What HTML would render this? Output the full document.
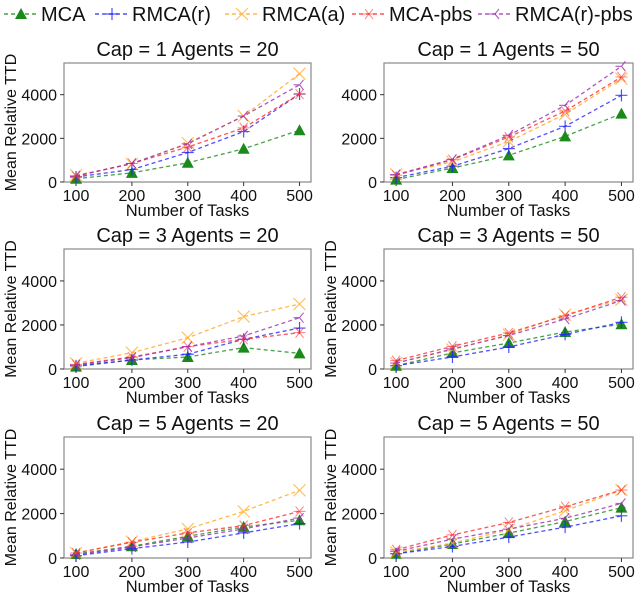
<!DOCTYPE html>
<html><head><meta charset="utf-8"><style>
body{margin:0;background:#fff;width:640px;height:594px;overflow:hidden}
svg{font-family:"Liberation Sans","DejaVu Sans",sans-serif}
</style></head><body>
<svg id="chart" width="640" height="594" viewBox="0 0 640 594" xmlns="http://www.w3.org/2000/svg"></svg>
<script>
const tasks = [100, 200, 300, 400, 500];
const seriesNames = ["MCA", "RMCA(r)", "RMCA(a)", "MCA-pbs", "RMCA(r)-pbs"];
const yTicks = [0, 2000, 4000];
const panelTitles = ["Cap = 1 Agents = 20", "Cap = 1 Agents = 50", "Cap = 3 Agents = 20", "Cap = 3 Agents = 50", "Cap = 5 Agents = 20", "Cap = 5 Agents = 50"];
const mcaVals = [[150,420,880,1520,2370],[110,640,1220,2090,3130],[110,410,545,970,710],[150,730,1180,1680,2030],[180,530,980,1400,1700],[190,630,1120,1640,2270]];
const rmcaRVals = [[230,570,1350,2310,4030],[200,720,1530,2550,3970],[140,410,670,1350,1860],[150,545,1000,1570,2120],[105,420,720,1130,1550],[190,520,940,1390,1900]];
const rmcaAVals = [[310,820,1780,3020,4960],[350,920,1860,3100,4730],[260,740,1420,2380,2950],[270,880,1560,2470,3150],[225,740,1310,2100,3050],[250,670,1270,2130,3060]];
const mcaPbsVals = [[260,850,1600,2480,4030],[310,1020,2060,3250,4810],[210,545,1015,1350,1650],[380,1030,1640,2420,3260],[225,710,1130,1460,2100],[370,1040,1600,2310,3060]];
const rmcaRPbsVals = [[280,850,1750,3020,4450],[340,1040,2140,3510,5300],[180,515,1015,1500,2330],[270,910,1520,2270,3110],[150,500,900,1310,1800],[300,850,1300,1790,2460]];

const allSeries = [mcaVals, rmcaRVals, rmcaAVals, mcaPbsVals, rmcaRPbsVals];
const colors = ["#1a8a1a", "#2323ff", "#ffa820", "#ff2a2a", "#9b2fae"];
const markers = ["tri", "plus", "x", "star", "tri3"];
const svg = document.getElementById('chart');
const NS = "http://www.w3.org/2000/svg";
function mk(tag, attrs, parent){const e=document.createElementNS(NS,tag);for(const k in attrs)e.setAttribute(k,attrs[k]);(parent||svg).appendChild(e);return e;}

function drawMarker(g, type, x, y, c){
  let m;
  if(type==="tri"){m=mk('polygon',{points:`${x},${y-6} ${x-6},${y+5} ${x+6},${y+5}`,fill:c},g);}
  else if(type==="plus"){m=mk('path',{d:`M${x-6},${y}H${x+6}M${x},${y-6}V${y+6}`,stroke:c,'stroke-width':1.2,fill:'none',opacity:0.8},g);}
  else if(type==="x"){m=mk('path',{d:`M${x-6},${y-6}L${x+6},${y+6}M${x-6},${y+6}L${x+6},${y-6}`,stroke:c,'stroke-width':1.2,fill:'none',opacity:0.7},g);}
  else if(type==="star"){m=mk('path',{d:`M${x-6},${y}H${x+6}M${x-4},${y-5}L${x+4},${y+5}M${x-4},${y+5}L${x+4},${y-5}`,stroke:c,'stroke-width':1,fill:'none',opacity:0.6},g);}
  else {m=mk('path',{d:`M${x},${y}L${x-6},${y}M${x},${y}L${x+4},${y-5}M${x},${y}L${x+4},${y+5}`,stroke:c,'stroke-width':1.1,fill:'none',opacity:0.8},g);}
  
  
}

const colX = [{l:64,r:311},{l:384,r:633}];
const rowY = [{t:63,b:182},{t:249,b:369},{t:437,b:558}];
const xMin=78.5, xMax=520.5, yMax=5450;

function yTitle(g,lx,cy){
  const yl=mk('text',{x:lx,y:cy,'text-anchor':'middle','font-size':16,fill:'#111',transform:`rotate(-90 ${lx} ${cy})`},g);
  yl.textContent='Mean Relative TTD';
  
  
}

for(let p=0;p<6;p++){
  const col=colX[p%2], row=rowY[Math.floor(p/2)];
  const xs=v=>col.l+(v-xMin)/(xMax-xMin)*(col.r-col.l);
  const ys=v=>row.b-(v/yMax)*(row.b-row.t);
  const g=mk('g',{});
  
  
  const cy=(row.t+row.b)/2;
  if(p%2===0) yTitle(g,16,cy);
  else if(p>1) yTitle(g,336,cy);
  const fr=mk('rect',{x:col.l,y:row.t,width:col.r-col.l,height:row.b-row.t,fill:'#fff',stroke:'#888','stroke-width':1.2},g);
  
  
  const t=mk('text',{x:(col.l+col.r)/2,y:row.t-7,'text-anchor':'middle','font-size':20,fill:'#111'},g);
  t.textContent=panelTitles[p];
  
  
  tasks.forEach(v=>{
    const x=xs(v);
    mk('line',{x1:x,x2:x,y1:row.b,y2:row.b+4,stroke:'#333'},g);
    const tl=mk('text',{x:x,y:row.b+19,'text-anchor':'middle','font-size':16,fill:'#111'},g);
    tl.textContent=v;
    
    
  });
  yTicks.forEach(v=>{
    const y=ys(v);
    mk('line',{x1:col.l-4,x2:col.l,y1:y,y2:y,stroke:'#333'},g);
    const tl=mk('text',{x:col.l-7,y:y+6,'text-anchor':'end','font-size':16,fill:'#111'},g);
    tl.textContent=v;
    
    
  });
  const xl=mk('text',{x:(col.l+col.r)/2,y:row.b+34,'text-anchor':'middle','font-size':16.5,fill:'#111'},g);
  xl.textContent='Number of Tasks';
  
  
  allSeries.forEach((s,si)=>{
    const vals=s[p];
    const pts=vals.map((v,i)=>xs(tasks[i])+','+ys(v)).join(' ');
    const pl=mk('polyline',{points:pts,fill:'none',stroke:colors[si],'stroke-width':1.3,'stroke-dasharray':'4,3',opacity:0.8},g);
    
    
    vals.forEach((v,i)=>drawMarker(g,markers[si],xs(tasks[i]),ys(v),colors[si]));
  });
}

// legend
const legendX=[4,95,225,352,478];
const lg=mk('g',{});


seriesNames.forEach((n,i)=>{
  const x=legendX[i], y=14;
  const e=mk('g',{},lg);
  
  
  mk('line',{x1:x,x2:x+35,y1:y,y2:y,stroke:colors[i],'stroke-width':1.5,'stroke-dasharray':'4,3',opacity:0.8},e);
  drawMarker(e,markers[i],x+17,y,colors[i]);
  const t=mk('text',{x:x+37,y:y+7,'font-size':20,fill:'#111'},e);
  t.textContent=n;
});
</script>
</body></html>
